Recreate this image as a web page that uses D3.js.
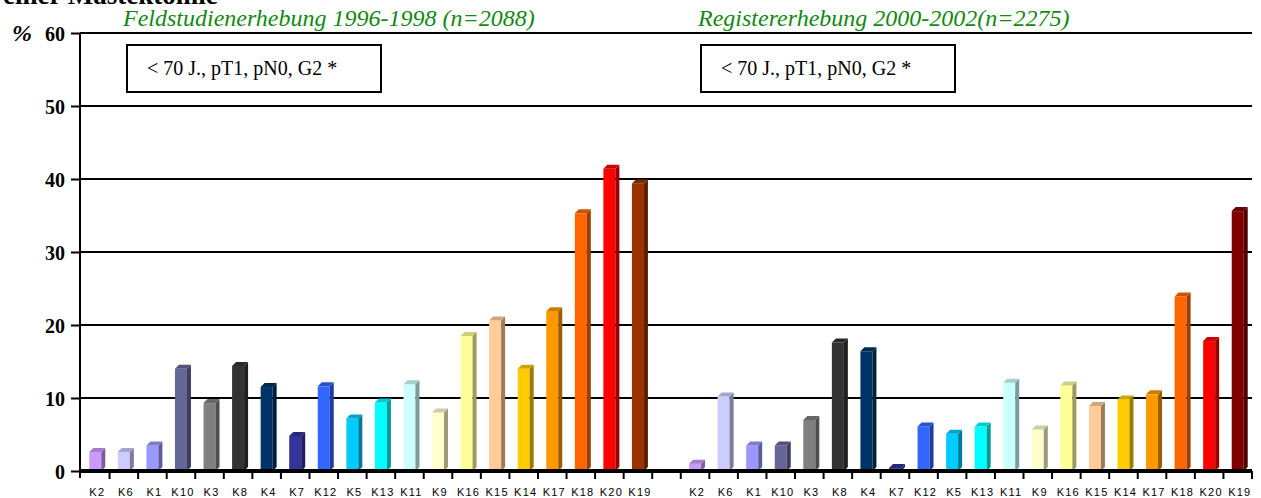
<!DOCTYPE html>
<html>
<head>
<meta charset="utf-8">
<script src="https://cdn.jsdelivr.net/npm/d3@7"></script>
<style>
  html, body { margin: 0; padding: 0; background: #fff; }
  svg { display: block; }
</style>
</head>
<body>
<svg id="chart" width="1261" height="498"></svg>
<script>
// Categories in the order they appear in each block
const categories = ["K2","K6","K1","K10","K3","K8","K4","K7","K12","K5","K13","K11","K9","K16","K15","K14","K17","K18","K20","K19"];
// Share in percent, field study 1996-1998
const fieldValues = [2.6,2.6,3.5,14.0,9.3,14.4,11.5,4.8,11.6,7.2,9.4,11.9,8.0,18.5,20.6,14.0,21.9,35.3,41.4,39.4];
// Share in percent, register 2000-2002
const registerValues = [1.0,10.2,3.5,3.5,7.0,17.6,16.4,0.4,6.1,5.1,6.1,12.1,5.7,11.7,8.9,9.8,10.5,23.9,17.8,35.6];
const fieldColors = ["#cc99ff","#ccccff","#9999ff","#666699","#808080","#333333","#003366","#333399","#3366ff","#00ccff","#00ffff","#ccffff","#ffffcc","#ffff99","#ffcc99","#ffcc00","#ff9900","#ff6600","#ff0000","#993300"];
const registerColors = ["#cc99ff","#ccccff","#9999ff","#666699","#808080","#333333","#003366","#333399","#3366ff","#00ccff","#00ffff","#ccffff","#ffffcc","#ffff99","#ffcc99","#ffcc00","#ff9900","#ff6600","#ff0000","#800000"];
const groupTitles = ["Feldstudienerhebung 1996-1998 (n=2088)", "Registererhebung 2000-2002(n=2275)"];
const boxText = "< 70 J., pT1, pN0, G2 *";
const yTicks = [0,10,20,30,40,50,60];

// Flatten both blocks into one band sequence with a blank slot between them
const slots = [];
categories.forEach((c, i) => slots.push({key: "a" + i, label: c, value: fieldValues[i], color: fieldColors[i]}));
slots.push({key: "gap", label: "", value: null, color: null});
categories.forEach((c, i) => slots.push({key: "b" + i, label: c, value: registerValues[i], color: registerColors[i]}));

const serif = "'Liberation Serif', 'Times New Roman', Times, serif";
const svg = d3.select("#chart");
const plotLeft = 81, plotRight = 1252, plotTop = 33, plotBase = 471;

const x = d3.scaleBand().domain(slots.map(d => d.key)).range([plotLeft, plotRight]).padding(0);
const y = d3.scaleLinear().domain([0, 60]).range([plotBase, plotTop]);
const bw = x.bandwidth();
const depth = 4;

// page title (runs off the top edge)
svg.append("text")
  .attr("x", 3).attr("y", 4)
  .style("font-family", serif)
  .attr("font-weight", "bold").attr("font-size", 27)
  .text("einer Mastektomie");

// gridlines
svg.append("g").selectAll("line").data(yTicks.filter(t => t > 0)).join("line")
  .attr("x1", plotLeft - 1).attr("x2", plotRight)
  .attr("y1", d => y(d)).attr("y2", d => y(d))
  .attr("stroke", "#000").attr("stroke-width", 2);

// y axis
const yAxis = d3.axisLeft(y).tickValues(yTicks).tickSize(9).tickPadding(6).tickFormat(d3.format("d"));
const yg = svg.append("g").attr("transform", `translate(${plotLeft - 1},0)`).call(yAxis);
yg.attr("font-family", null);
yg.select(".domain").remove();
yg.selectAll(".tick line").attr("stroke", "#000").attr("stroke-width", 2);
yg.selectAll(".tick text")
  .style("font-family", serif)
  .attr("font-weight", "bold").attr("font-size", 20).attr("fill", "#000")
  .attr("dy", "0.36em");
svg.append("line")
  .attr("x1", plotLeft - 1).attr("x2", plotLeft - 1).attr("y1", plotTop).attr("y2", plotBase + 7)
  .attr("stroke", "#000").attr("stroke-width", 2);

svg.append("text")
  .attr("x", 12).attr("y", 41)
  .style("font-family", serif)
  .attr("font-weight", "bold").attr("font-style", "italic").attr("font-size", 24)
  .text("%");

// 3D bars: front face, right side face and top face
const bars = svg.append("g").selectAll("g").data(slots.filter(d => d.value !== null)).join("g");
const fx = d => x(d.key) + bw * 0.29;
const fw = bw * 0.42;
bars.append("rect")
  .attr("x", fx).attr("y", d => y(d.value))
  .attr("width", fw).attr("height", d => plotBase - y(d.value))
  .attr("fill", d => d.color);
bars.append("path")
  .attr("d", d => {
    const x0 = fx(d) + fw, y0 = y(d.value);
    return `M${x0},${y0}L${x0 + depth},${y0 - depth}L${x0 + depth},${plotBase - depth}L${x0},${plotBase}Z`;
  })
  .attr("fill", d => d3.color(d.color).darker(1.4));
bars.append("path")
  .attr("d", d => {
    const x0 = fx(d), y0 = y(d.value);
    return `M${x0},${y0}L${x0 + depth},${y0 - depth}L${x0 + fw + depth},${y0 - depth}L${x0 + fw},${y0}Z`;
  })
  .attr("fill", d => d3.color(d.color).darker(0.6));

// floor line
svg.append("line")
  .attr("x1", plotLeft - 1).attr("x2", plotRight).attr("y1", plotBase).attr("y2", plotBase)
  .attr("stroke", "#000").attr("stroke-width", 4);

// x ticks at band boundaries
const bounds = slots.map(d => x(d.key) + bw).filter(v => v <= plotRight + 0.5);
svg.append("g").selectAll("line").data(bounds).join("line")
  .attr("x1", d => d).attr("x2", d => d).attr("y1", plotBase).attr("y2", plotBase + 8)
  .attr("stroke", "#000").attr("stroke-width", 2);

// category labels
svg.append("g").selectAll("text").data(slots.filter(d => d.label)).join("text")
  .attr("x", d => x(d.key) + bw / 2 + 2).attr("y", 496)
  .attr("text-anchor", "middle")
  .style("font-family", "Arial, 'Liberation Sans', sans-serif")
  .attr("font-size", 11).attr("letter-spacing", 1.2)
  .text(d => d.label);

// block titles
const titleX = [123, 698];
svg.append("g").selectAll("text").data(groupTitles).join("text")
  .attr("x", (d, i) => titleX[i]).attr("y", 26)
  .style("font-family", serif)
  .attr("font-style", "italic").attr("font-size", 24).attr("fill", "#108a10")
  .text(d => d);

// criteria boxes
const boxX = [127, 701];
const boxes = svg.append("g").selectAll("g").data(boxX).join("g");
boxes.append("rect")
  .attr("x", d => d).attr("y", 45).attr("width", 254).attr("height", 47)
  .attr("fill", "#fff").attr("stroke", "#000").attr("stroke-width", 2);
boxes.append("text")
  .attr("x", d => d + 20).attr("y", 75)
  .style("font-family", serif)
  .attr("font-size", 20)
  .text(boxText);
</script>
</body>
</html>
